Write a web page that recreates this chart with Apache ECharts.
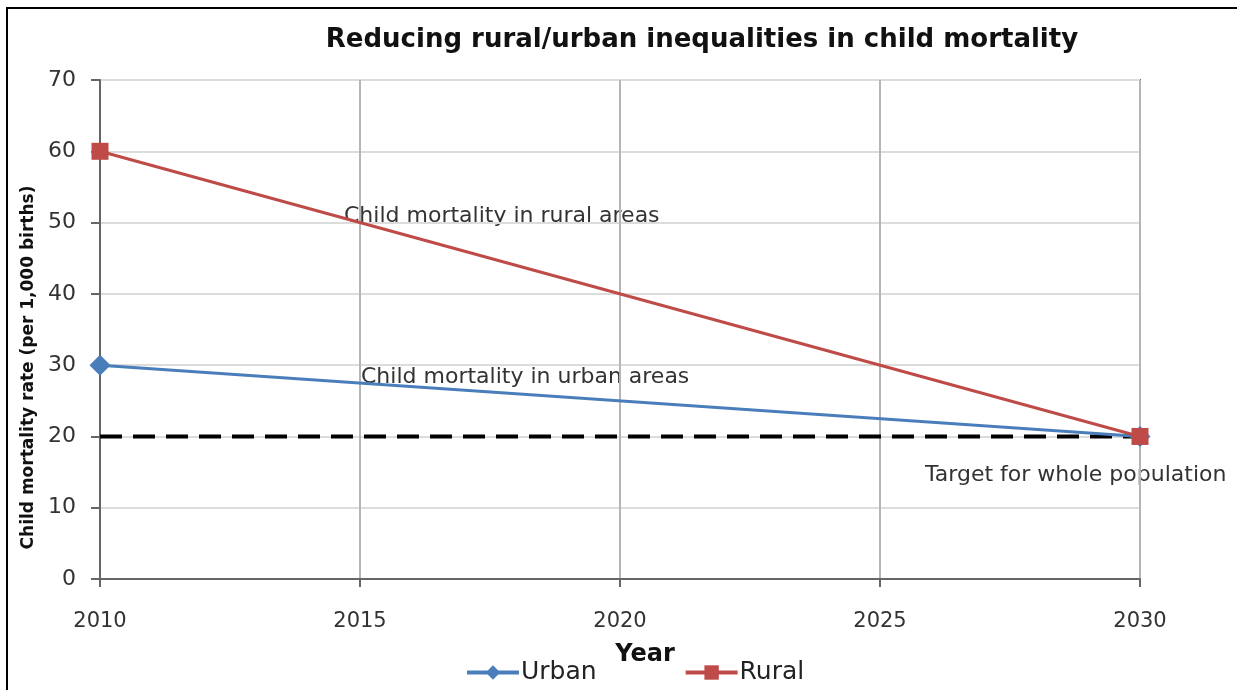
<!DOCTYPE html>
<html>
<head>
<meta charset="utf-8">
<script src="https://cdn.jsdelivr.net/npm/echarts@6/dist/echarts.min.js"></script>
<style>
  html, body { margin: 0; padding: 0; background: #fff; }
  #chart { width: 1237px; height: 690px; }
</style>
</head>
<body>
<div id="chart"></div>
<script>
const years = [2010, 2030]
const urban = [30, 20]
const rural = [60, 20]
const target = [20, 20]

const font = '"DejaVu Sans", sans-serif'
const pair = (vals) => years.map((y, i) => [y, vals[i]])

const chart = echarts.init(document.getElementById('chart'))
chart.setOption({
  animation: false,
  textStyle: { fontFamily: font },
  title: {
    text: 'Reducing rural/urban inequalities in child mortality',
    left: 697,
    top: 22,
    textAlign: 'center',
    textStyle: { fontSize: 26, fontWeight: 'bold', color: '#111', fontFamily: font }
  },
  legend: {
    left: 460,
    top: 655,
    itemGap: 87,
    itemWidth: 52,
    itemHeight: 18,
    lineStyle: { width: 4 },
    textStyle: { fontSize: 25, color: '#222', fontFamily: font, padding: [0, 0, 0, -3] },
    data: ['Urban', 'Rural']
  },
  grid: {
    left: 100, right: 97, top: 80, bottom: 111,
    show: true, borderColor: '#7a7a7a', borderWidth: 2
  },
  xAxis: {
    type: 'value',
    min: 2010, max: 2030, interval: 5,
    name: 'Year',
    nameLocation: 'middle',
    nameGap: 64,
    nameTextStyle: { fontSize: 24, fontWeight: 'bold', color: '#111', fontFamily: font, padding: [0, 0, 0, 50] },
    axisLine: { show: true, lineStyle: { color: '#666', width: 2 } },
    axisTick: { show: true, length: 8, lineStyle: { color: '#666', width: 2 } },
    axisLabel: { fontSize: 21, color: '#333', margin: 32, fontFamily: font, formatter: (v) => String(v) },
    splitLine: { show: true, lineStyle: { color: '#b5b5b5', width: 2 } }
  },
  yAxis: {
    type: 'value',
    min: 0, max: 70, interval: 10,
    name: 'Child mortality rate (per 1,000 births)',
    nameLocation: 'middle',
    nameGap: 60,
    nameTextStyle: { fontSize: 17, fontWeight: 'bold', color: '#111', fontFamily: font, padding: [0, 76, 0, 0] },
    axisLine: { show: true, lineStyle: { color: '#666', width: 2 } },
    axisTick: { show: true, length: 9, lineStyle: { color: '#666', width: 2 } },
    axisLabel: { fontSize: 22, color: '#333', margin: 24, fontFamily: font },
    splitLine: { show: true, lineStyle: { color: '#dcdcdc', width: 2 } }
  },
  series: [
    {
      name: 'Target',
      type: 'line',
      data: pair(target),
      symbol: 'none',
      lineStyle: { color: '#000', width: 4, type: [22, 11] },
      z: 2
    },
    {
      name: 'Urban',
      type: 'line',
      data: pair(urban),
      symbol: 'diamond',
      symbolSize: 21,
      itemStyle: { color: '#4a7ebb' },
      lineStyle: { color: '#4a7ebb', width: 3 },
      z: 3
    },
    {
      name: 'Rural',
      type: 'line',
      data: pair(rural),
      symbol: 'rect',
      symbolSize: 17,
      itemStyle: { color: '#be4b48' },
      lineStyle: { color: '#be4b48', width: 3 },
      z: 4
    }
  ],
  graphic: [
    {
      type: 'rect',
      shape: { x: 7, y: 8, width: 1400, height: 900 },
      style: { fill: 'none', stroke: '#000', lineWidth: 2 },
      silent: true
    },
    {
      type: 'text', left: 344, top: 205,
      style: { text: 'Child mortality in rural areas', fontSize: 22, fill: '#333', fontFamily: font }
    },
    {
      type: 'text', left: 361, top: 366,
      style: { text: 'Child mortality in urban areas', fontSize: 22, fill: '#333', fontFamily: font }
    },
    {
      type: 'text', left: 925, top: 464,
      style: { text: 'Target for whole population', fontSize: 22, fill: '#333', fontFamily: font }
    }
  ]
})
</script>
</body>
</html>
